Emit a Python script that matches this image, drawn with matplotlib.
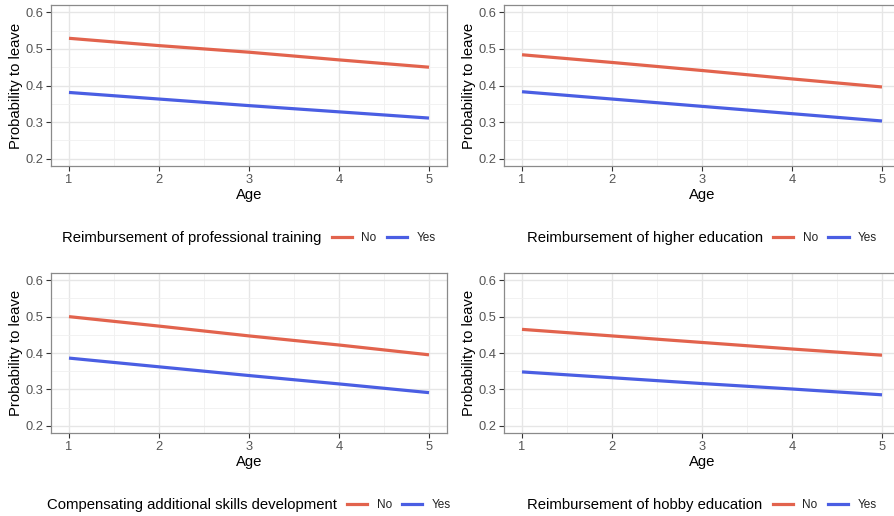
import matplotlib
matplotlib.use("Agg")
import matplotlib.pyplot as plt
from matplotlib.lines import Line2D
from matplotlib.ticker import MultipleLocator

plt.rcParams['font.family'] = ['Liberation Sans', 'DejaVu Sans']

age = [1, 2, 3, 4, 5]

titles = [
    "Reimbursement of professional training",
    "Reimbursement of higher education",
    "Compensating additional skills development",
    "Reimbursement of hobby education",
]
no_values = [
    [0.529, 0.509, 0.491, 0.470, 0.450],
    [0.484, 0.463, 0.441, 0.418, 0.396],
    [0.500, 0.474, 0.447, 0.422, 0.395],
    [0.465, 0.447, 0.429, 0.411, 0.394],
]
yes_values = [
    [0.381, 0.363, 0.345, 0.328, 0.311],
    [0.383, 0.363, 0.343, 0.323, 0.303],
    [0.386, 0.362, 0.338, 0.315, 0.291],
    [0.348, 0.332, 0.316, 0.301, 0.285],
]
group_labels = ["No", "Yes"]
y_ticks = [0.2, 0.3, 0.4, 0.5, 0.6]
x_ticks = [1, 2, 3, 4, 5]

RED = '#E2634D'
BLUE = '#4A5EE3'

W, H = 894, 516
fig = plt.figure(figsize=(W / 100, H / 100), dpi=100)

positions = [
    (51, 166, 161), (504, 166, 161),
    (51, 433, 160), (504, 433, 160),
]
legend_y = [238, 238, 505, 505]

axes = []
for i, (left, bottom, h) in enumerate(positions):
    ax = fig.add_axes([left / W, (H - bottom) / H, 396 / W, h / H])
    axes.append(ax)
    ax.plot(age, no_values[i], color=RED, lw=2.3, solid_capstyle='butt', zorder=3)
    ax.plot(age, yes_values[i], color=BLUE, lw=2.3, solid_capstyle='butt', zorder=3)
    ax.set_xlim(0.8, 5.2)
    ax.set_ylim(0.18, 0.62)
    ax.set_xticks(x_ticks)
    ax.set_yticks(y_ticks)
    ax.set_yticklabels([f"{v:.1f}" for v in y_ticks])
    ax.xaxis.set_minor_locator(MultipleLocator(0.5))
    ax.yaxis.set_minor_locator(MultipleLocator(0.05))
    ax.grid(which='major', color='#E6E6E6', lw=1.0, zorder=0)
    ax.grid(which='minor', color='#F0F0F0', lw=0.6, zorder=0)
    ax.tick_params(which='minor', length=0)
    ax.tick_params(which='major', length=3.5, width=0.8, color='#333333',
                   labelsize=9.3, labelcolor='#555555', pad=2)
    for s in ax.spines.values():
        s.set_color('#8A8A8A')
        s.set_linewidth(0.9)
    ax.set_axisbelow(True)
    ax.set_xlabel("Age", fontsize=10.7)
    ax.set_ylabel("Probability to leave", fontsize=10.7)
    ax.xaxis.set_label_coords(0.5, -29 / h)
    ax.yaxis.set_label_coords(-35 / 396, 0.5)
    ax.xaxis.label.set_va('center')
    ax.yaxis.label.set_va('center')

# legends below each panel
items = []
for i, ax in enumerate(axes):
    y = 1 - legend_y[i] / H
    t = fig.text(0, y, titles[i], fontsize=10.7, ha='left', va='center')
    handles = [Line2D([], [], color=RED, lw=2.3), Line2D([], [], color=BLUE, lw=2.3)]
    leg = fig.legend(handles, group_labels, loc='center left', bbox_to_anchor=(0, y),
                     ncol=2, frameon=False, fontsize=8.5, handlelength=1.7,
                     handletextpad=0.8, columnspacing=0.9, borderpad=0,
                     borderaxespad=0, labelcolor='#222222')
    items.append((ax, t, leg, y))

fig.canvas.draw()
r = fig.canvas.get_renderer()
gap = 10
for ax, t, leg, y in items:
    wt = t.get_window_extent(r).width
    wl = leg.get_window_extent(r).width
    bb = ax.get_position()
    cx = (bb.x0 + min(bb.x0 + bb.width, 900 / W)) / 2 * W
    start = cx - (wt + gap + wl) / 2
    t.set_x(start / W)
    leg.set_bbox_to_anchor(((start + wt + gap) / W, y))

fig.savefig("out.png", dpi=100)
